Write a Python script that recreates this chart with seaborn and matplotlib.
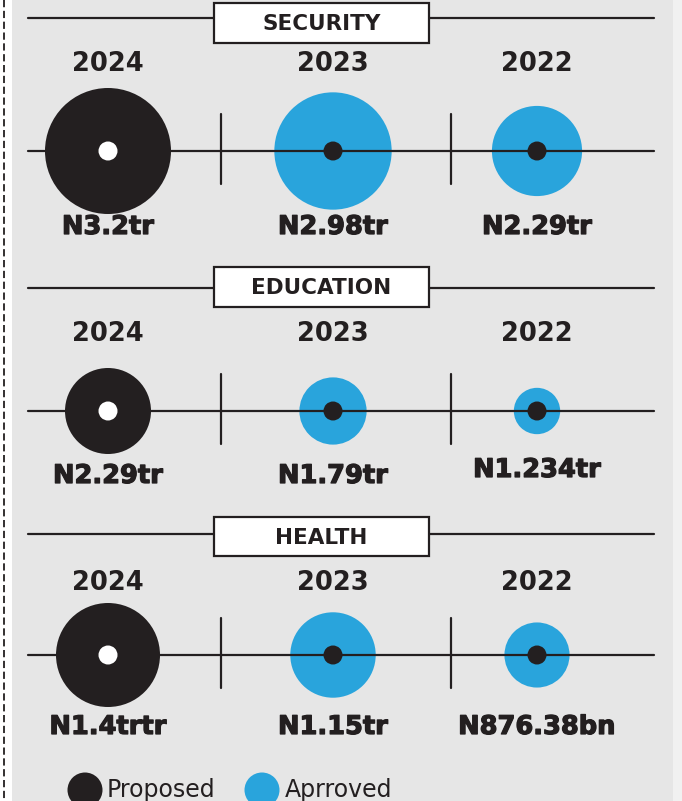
import matplotlib
matplotlib.use("Agg")
import matplotlib.pyplot as plt
import matplotlib.patches as mpatches
import matplotlib.patheffects as pe
import seaborn as sns
import numpy as np
import pandas as pd

# ---- data ----
sectors = ["SECURITY", "EDUCATION", "HEALTH"]
years = ["2024", "2023", "2022"]
status = ["Proposed", "Approved", "Approved"]
security_tr = [3.2, 2.98, 2.29]
education_tr = [2.29, 1.79, 1.234]
health_tr = [1.4, 1.15, 0.87638]
security_labels = ["N3.2tr", "N2.98tr", "N2.29tr"]
education_labels = ["N2.29tr", "N1.79tr", "N1.234tr"]
health_labels = ["N1.4trtr", "N1.15tr", "N876.38bn"]
legend_labels = ["Proposed", "Aprroved"]

# ---- layout / style (pixel units, origin top-left) ----
W, H = 682, 801
BLACK = "#231f20"
BLUE = "#29a4dc"
GREY = "#e6e6e6"
year_x = [108, 333, 537]
sep_x = [221, 451]
line_x = (28, 654)
box_x = (214, 429)
header_y = [18, 288, 534]
box_y = [(3, 43), (267, 307), (517, 556)]
year_y = [64, 334, 583]
line_y = [151, 411, 655]
label_y = [227, 476, 727]
max_radius = [63, 43, 52]
px2pt = 72 / 100

sns.set_theme(style="white")
plt.rcParams['font.family'] = ['DejaVu Sans']

fig = plt.figure(figsize=(W / 100, H / 100), dpi=100)
fig.patch.set_facecolor("white")
ax = fig.add_axes([0, 0, 1, 1])
ax.set_xlim(0, W)
ax.set_ylim(H, 0)
ax.axis("off")

# background panel and dashed cut line
ax.add_patch(mpatches.Rectangle((12, 0), 661, H, facecolor=GREY, edgecolor="none", zorder=0))
ax.add_patch(mpatches.Rectangle((673, 0), 9, H, facecolor="#f1f1f1", edgecolor="none", zorder=0))
ax.plot([4, 4], [0, H], color=BLACK, lw=1.3, ls=(0, (4, 2)), zorder=1)

values = [security_tr, education_tr, health_tr]
labels = [security_labels, education_labels, health_labels]

rows = []
for p, sector in enumerate(sectors):
    vmax = max(values[p])
    for i, yr in enumerate(years):
        r = max_radius[p] * values[p][i] / vmax
        rows.append(dict(sector=sector, year=yr, value=values[p][i], status=status[i],
                         x=year_x[i], y=line_y[p], s=(2 * r * px2pt) ** 2))
df = pd.DataFrame(rows)

sns.scatterplot(data=df, x="x", y="y", hue="status",
                palette={"Proposed": BLACK, "Approved": BLUE},
                s=df["s"].values, linewidth=0, legend=False, ax=ax, zorder=2)

heavy = [pe.withStroke(linewidth=0.9, foreground=BLACK)]

for p, sector in enumerate(sectors):
    # header line and box
    ax.plot(line_x, [header_y[p], header_y[p]], color=BLACK, lw=1.6, zorder=1)
    y0, y1 = box_y[p]
    ax.add_patch(mpatches.Rectangle((box_x[0], y0), box_x[1] - box_x[0], y1 - y0,
                                    facecolor="white", edgecolor=BLACK, lw=1.6, zorder=3))
    ax.text(sum(box_x) / 2, (y0 + y1) / 2 + 1, sector, ha="center", va="center",
            fontsize=15.5, fontweight="bold", color=BLACK, zorder=4)
    # axis line and separators
    ax.plot(line_x, [line_y[p], line_y[p]], color=BLACK, lw=1.6, zorder=3)
    for sx in sep_x:
        ax.plot([sx, sx], [line_y[p] - 37, line_y[p] + 33], color=BLACK, lw=1.6, zorder=3)
    for i, yr in enumerate(years):
        ax.text(year_x[i], year_y[p], yr, ha="center", va="center",
                fontsize=18.5, fontweight="bold", color=BLACK)
        dy = -6 if labels[p][i] == "N1.234tr" else 0
        ax.text(year_x[i], label_y[p] + dy, labels[p][i], ha="center", va="center",
                fontsize=18.5, fontweight="bold", color=BLACK, path_effects=heavy)

# centre dots
dot_colors = ["white" if s == "Proposed" else BLACK for s in df["status"]]
ax.scatter(df["x"], df["y"], s=(2 * 9.5 * px2pt) ** 2, c=dot_colors, linewidths=0, zorder=5)

# legend
leg_x = [85, 262]
ax.scatter(leg_x, [790, 790], s=(2 * 17.5 * px2pt) ** 2, c=[BLACK, BLUE], linewidths=0, zorder=2)
ax.text(107, 790, legend_labels[0], ha="left", va="center", fontsize=17, color=BLACK)
ax.text(285, 790, legend_labels[1], ha="left", va="center", fontsize=17, color=BLACK)

fig.savefig("out.png", dpi=100, facecolor=fig.get_facecolor())
